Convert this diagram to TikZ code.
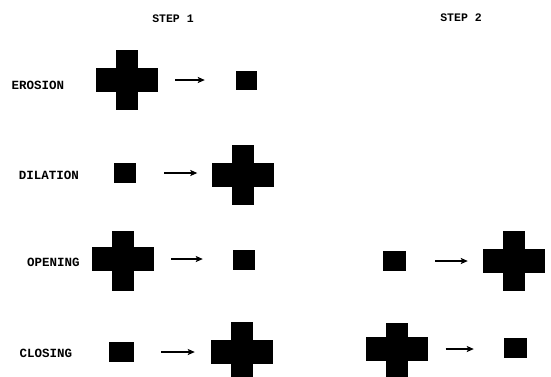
\documentclass[tikz,border=0pt]{standalone}
\usepackage{fontspec}
\setmainfont{Liberation Mono}
\usetikzlibrary{arrows.meta}
\begin{document}
\begin{tikzpicture}[x=1pt,y=-1pt,
  lbl/.style={font=\fontsize{12.5}{14}\selectfont\bfseries, inner sep=0pt},
  ttl/.style={font=\fontsize{11.5}{13}\selectfont\bfseries, inner sep=0pt},
  sq/.style={fill=black, draw=none, inner sep=0pt, minimum width=22pt, minimum height=20pt},
  crossh/.style={fill=black, draw=none, inner sep=0pt, minimum width=62pt, minimum height=24pt},
  crossv/.style={fill=black, draw=none, inner sep=0pt, minimum width=22pt, minimum height=60pt},
  arr/.style={-{Stealth[length=7pt,width=6pt,inset=1.5pt]}, line width=2.2pt, black}]
\clip (0,0) rectangle (551,376);
\fill[white] (0,0) rectangle (551,376);
% titles
\node[ttl] (t1) at (173,19) {STEP 1};
\node[ttl] (t2) at (461,18) {STEP 2};
% labels
\node[lbl] (l1) at (38,85) {EROSION};
\node[lbl] (l2) at (49,175) {DILATION};
\node[lbl] (l3) at (53.5,262) {OPENING};
\node[lbl] (l4) at (46,353.5) {CLOSING};
% row 1: erosion
\node[crossh] (c1) at (127,80) {};
\node[crossv] (c1v) at (127,80) {};
\node[sq, minimum width=21pt, minimum height=19pt] (s1) at (246.5,80) {};
\draw[arr, shorten <=17pt, shorten >=31pt] (c1.east) -- (c1.east -| s1.west);
% row 2: dilation
\node[sq] (s2) at (125,173) {};
\node[crossh] (c2) at (242.5,175) {};
\node[crossv] (c2v) at (242.5,175) {};
\draw[arr, shorten <=28pt, shorten >=14pt] (s2.east) -- (s2.east -| c2.west);
% row 3: opening
\node[crossh] (c3) at (123,259) {};
\node[crossv] (c3v) at (123,261) {};
\node[sq] (s3) at (244,260) {};
\draw[arr, shorten <=17pt, shorten >=30pt] (c3.east) -- (c3.east -| s3.west);
\node[sq, minimum width=23pt] (s3b) at (394.5,261) {};
\node[crossh] (c3b) at (514,260.5) {};
\node[crossv] (c3bv) at (514,260.5) {};
\draw[arr, shorten <=29pt, shorten >=15pt] (s3b.east) -- (s3b.east -| c3b.west);
% row 4: closing
\node[sq, minimum width=25pt] (s4) at (121.5,352) {};
\node[crossh] (c4) at (242,352) {};
\node[crossv] (c4v) at (242,352) {};
\draw[arr, shorten <=27pt, shorten >=16pt] (s4.east) -- (s4.east -| c4.west);
\node[crossh] (c4b) at (396.5,349) {};
\node[crossv] (c4bv) at (396.5,353) {};
\node[sq, minimum width=23pt] (s4b) at (515.5,348) {};
\draw[arr, shorten <=18pt, shorten >=30pt] (c4b.east) -- (c4b.east -| s4b.west);
\end{tikzpicture}
\end{document}
